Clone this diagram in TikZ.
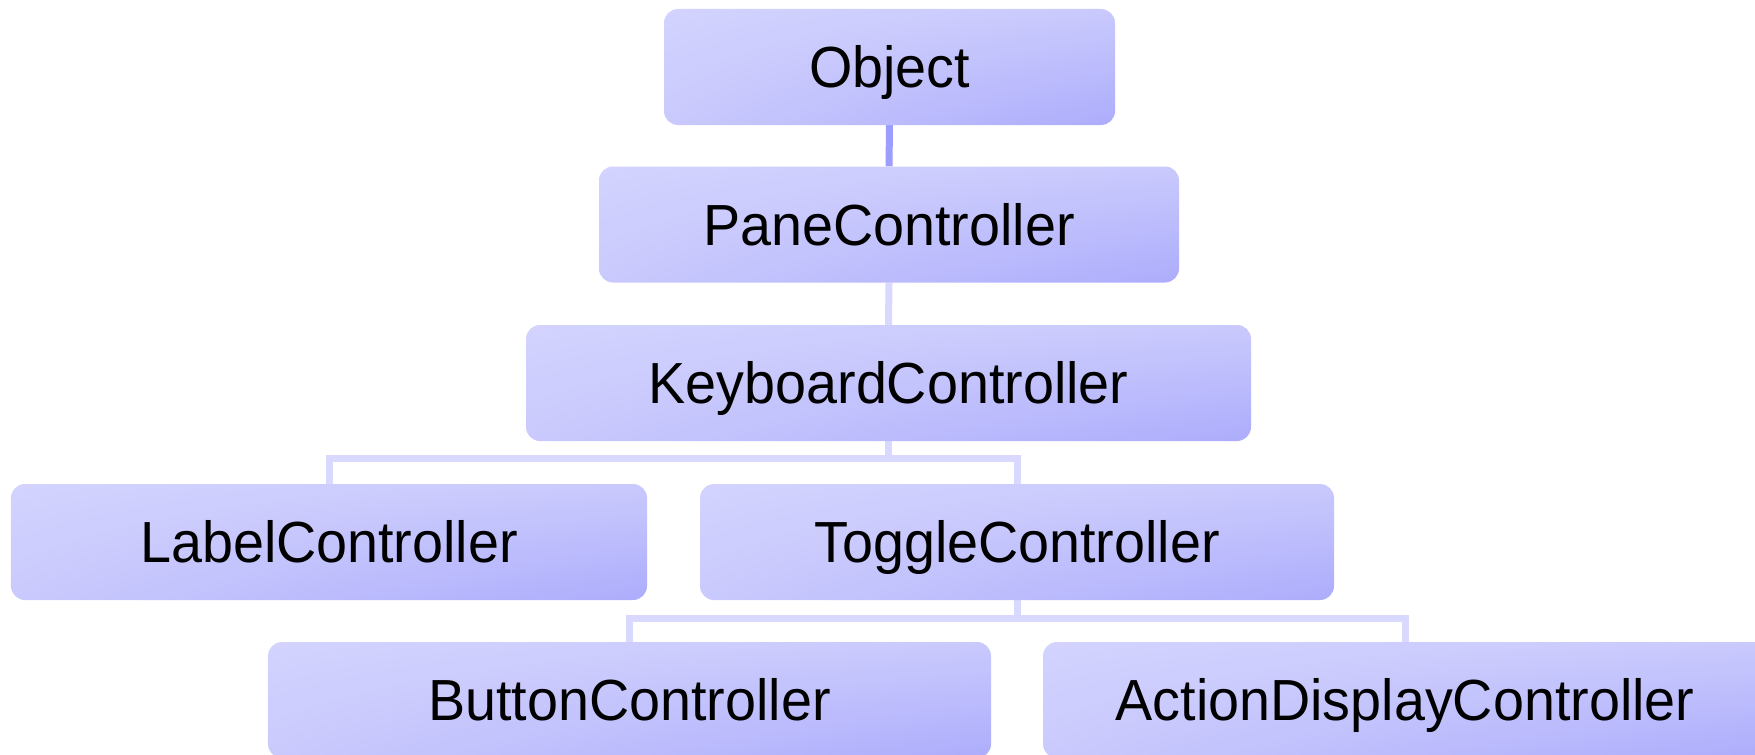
\documentclass[tikz,border=0pt]{standalone}
\usepackage{fontspec}
\setmainfont[FakeStretch=0.96]{Liberation Sans}
\usetikzlibrary{backgrounds}

% light lavender at the top and left, deepening towards the lower right corner
\pgfdeclarefunctionalshading{lavender}{\pgfpointorigin}{\pgfpoint{100bp}{100bp}}{}{
  100 div 1 exch sub exch 100 div mul
  1.25 mul dup 1 gt {pop 1} if
  dup dup
  0.245 mul 0.847 exch sub
  3 1 roll
  0.245 mul 0.847 exch sub
  exch
  0.01 mul 0.996 exch sub
}

\definecolor{linkdark}{HTML}{9D9DFF}
\definecolor{linklight}{HTML}{D9D9FF}

\tikzset{
  cls/.style={rectangle, rounded corners=14bp, shading=lavender,
    minimum height=116bp, inner sep=0pt, text=black,
    text height=41.5bp, text depth=0pt,
    font=\fontsize{58bp}{60bp}\selectfont},
  link/.style={line width=7bp, draw=linklight, line join=miter},
}

\begin{document}
\begin{tikzpicture}[x=1bp, y=-1bp]
  \useasboundingbox (0,0) rectangle (1755,755);

  \node[cls, minimum width=451bp] (obj) at (889.5,67)  {Object};
  \node[cls, minimum width=580bp] (pane) at (889,224.5) {PaneController};
  \node[cls, minimum width=725bp] (kbd) at (888.5,383) {KeyboardController};
  \node[cls, minimum width=636bp] (lab) at (329,542)   {LabelController};
  \node[cls, minimum width=634bp] (tog) at (1017,542)  {ToggleController};
  \node[cls, minimum width=723bp] (btn) at (629.5,700) {ButtonController};
  \node[cls, minimum width=724bp] (act) at (1405,700)  {ActionDisplayController};

  \begin{scope}[on background layer]
    \draw[link, draw=linkdark] (obj.south) -- (pane.north);
    \draw[link] (pane.south) -- (kbd.north);
    \draw[link] (kbd.south) -- ++(0,17) -| (lab.north);
    \draw[link] (kbd.south) -- ++(0,17) -| (tog.north);
    \draw[link] (tog.south) -- ++(0,18) -| (btn.north);
    \draw[link] (tog.south) -- ++(0,18) -| (act.north);
  \end{scope}
\end{tikzpicture}
\end{document}
